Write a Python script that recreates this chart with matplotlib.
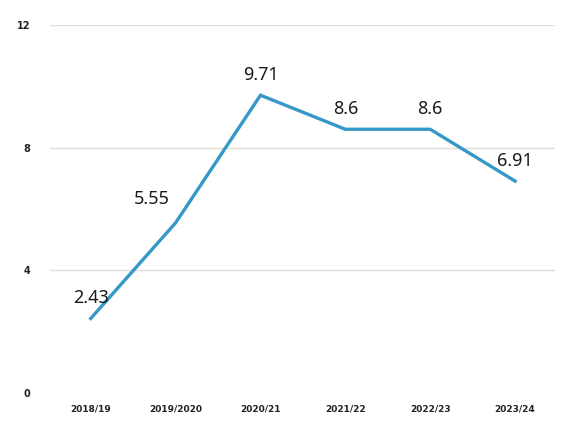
import matplotlib
matplotlib.use("Agg")
from matplotlib import pyplot as plt

years = ["2018/19", "2019/2020", "2020/21", "2021/22", "2022/23", "2023/24"]
values = [2.43, 5.55, 9.71, 8.6, 8.6, 6.91]
value_labels = ["2.43", "5.55", "9.71", "8.6", "8.6", "6.91"]
y_ticks = [0, 4, 8, 12]

fig = plt.figure(figsize=(5.61, 4.21), dpi=100)
ax = fig.add_axes([50 / 561, 28 / 421, 505 / 561, 368 / 421])

x = list(range(len(years)))

# light horizontal gridlines
for t in y_ticks[1:]:
    ax.axhline(t, color="#e6ddd4", lw=1.0, zorder=0)

ax.plot(x, values, color="#3598c8", lw=2.4, solid_joinstyle="miter", zorder=3)

# data labels, slightly above each point
offsets = [(0, 8), (-17, 11), (0, 8), (0, 8), (0, 8), (0, 8)]
for xi, v, lab, off in zip(x, values, value_labels, offsets):
    ax.annotate(lab, (xi, v), xytext=off, textcoords="offset points",
                ha="center", va="bottom", fontsize=13, color="#1a1a1a",
                family="Noto Sans")

ax.set_xlim(-0.48, 5.47)
ax.set_ylim(0, 12)
ax.set_xticks(x)
ax.set_xticklabels(years, fontsize=6.5, fontweight="bold", color="#222222")
ax.set_yticks(y_ticks)
ax.set_yticklabels([str(t) for t in y_ticks], fontsize=7, fontweight="bold",
                   color="#222222")
ax.tick_params(axis="both", length=0)
ax.tick_params(axis="y", pad=14)
ax.tick_params(axis="x", pad=8)

for s in ax.spines.values():
    s.set_visible(False)

fig.savefig("out.png", dpi=100)
